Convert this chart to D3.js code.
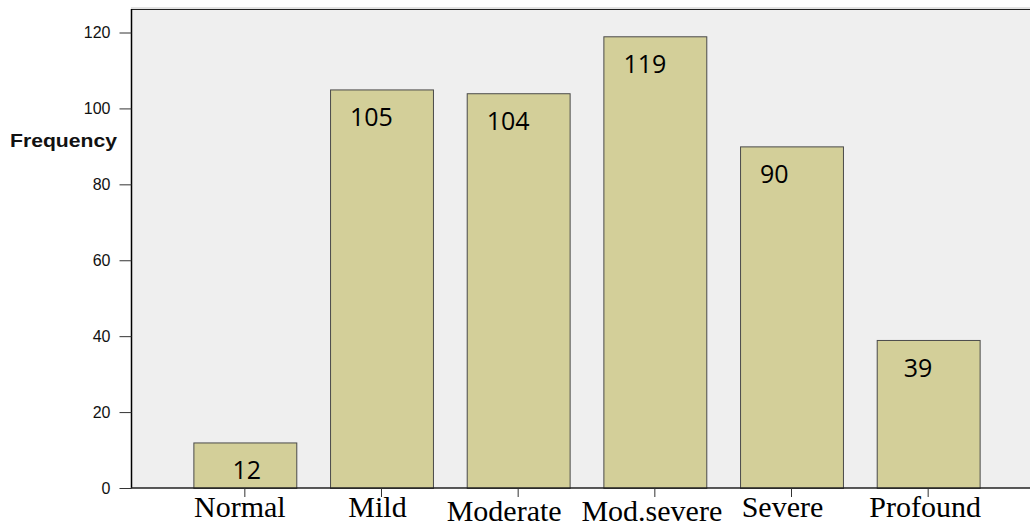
<!DOCTYPE html>
<html>
<head>
<meta charset="utf-8">
<script src="https://cdn.jsdelivr.net/npm/d3@7"></script>
<style>
  html, body { margin: 0; padding: 0; background: #ffffff; }
  svg { display: block; }
</style>
</head>
<body>
<svg id="chart" width="1030" height="529"></svg>
<script>
// ---- data ----
const categories = ["Normal", "Mild", "Moderate", "Mod.severe", "Severe", "Profound"];
const frequencies = [12, 105, 104, 119, 90, 39];
const yTicks = [0, 20, 40, 60, 80, 100, 120];
const yTitle = "Frequency";

// ---- layout (manual nudges of the text boxes, as in the source) ----
const valueLabelDx = [39, 20, 20, 20, 20, 27];     // from bar's left edge
const catLabelDx = [-5, -4, -14, -3, -9, -3];      // from tick
const catLabelDy = [29, 29, 33, 33, 29, 29];       // from axis line

const W = 1030, H = 529;
const plotLeft = 131, plotTop = 9, plotRight = 1030, plotBottom = 488;

const svg = d3.select("#chart");

const x = d3.scaleBand()
  .domain(categories)
  .range([176.5, 996.5])
  .paddingInner(0.247)
  .paddingOuter(0.1235);

const y = d3.scaleLinear()
  .domain([0, 120])
  .range([plotBottom, 32.5]);

// plot background
svg.append("rect")
  .attr("x", plotLeft).attr("y", plotTop)
  .attr("width", plotRight - plotLeft).attr("height", plotBottom - plotTop)
  .attr("fill", "#efefef");

// faint line above top border
svg.append("line")
  .attr("x1", plotLeft).attr("x2", plotRight)
  .attr("y1", plotTop - 1).attr("y2", plotTop - 1)
  .attr("stroke", "#c8c8c8").attr("stroke-width", 1);
// top border
svg.append("line")
  .attr("x1", plotLeft).attr("x2", plotRight)
  .attr("y1", plotTop + 0.5).attr("y2", plotTop + 0.5)
  .attr("stroke", "#222").attr("stroke-width", 1);

// bars
svg.append("g").selectAll("rect")
  .data(frequencies)
  .join("rect")
  .attr("x", (d, i) => x(categories[i]) + 0.5)
  .attr("y", d => y(d) + 0.5)
  .attr("width", x.bandwidth())
  .attr("height", d => y(0) - y(d))
  .attr("fill", "#d3cf99")
  .attr("stroke", "#4a4a4a")
  .attr("stroke-width", 1);

// value labels
svg.append("g").selectAll("text")
  .data(frequencies)
  .join("text")
  .attr("x", (d, i) => x(categories[i]) + valueLabelDx[i])
  .attr("y", d => y(d) + 37)
  .attr("font-family", "'Open Sans', 'Noto Sans', sans-serif")
  .attr("font-size", 25)
  .attr("fill", "#000")
  .text(d => d);

// y axis
const yAxis = d3.axisLeft(y)
  .tickValues(yTicks)
  .tickSize(12)
  .tickPadding(9)
  .tickFormat(d3.format("d"));
const gy = svg.append("g")
  .attr("transform", `translate(${plotLeft + 0.5},0)`)
  .call(yAxis);
gy.select(".domain").attr("d", `M0,${plotTop}V${plotBottom}`).attr("stroke", "#000").attr("stroke-width", 1.5);
gy.selectAll(".tick line").attr("stroke", "#333");
gy.selectAll(".tick text")
  .attr("font-family", "Arial, 'Liberation Sans', sans-serif")
  .attr("font-size", 16)
  .attr("fill", "#111");

// y title
svg.append("text")
  .attr("x", 10).attr("y", 147)
  .attr("font-family", "Arial, 'Liberation Sans', sans-serif")
  .attr("font-weight", "bold")
  .attr("font-size", 18.5)
  .attr("textLength", 107)
  .attr("lengthAdjust", "spacingAndGlyphs")
  .attr("fill", "#111")
  .text(yTitle);

// x axis
const xAxis = d3.axisBottom(x).tickSize(9).tickFormat("");
const gx = svg.append("g")
  .attr("transform", `translate(0,${plotBottom})`)
  .call(xAxis);
gx.select(".domain").attr("d", `M${plotLeft},0H${plotRight}`).attr("stroke", "#222").attr("stroke-width", 1.5);
gx.selectAll(".tick line").attr("stroke", "#333");

// category labels
svg.append("g").selectAll("text")
  .data(categories)
  .join("text")
  .attr("x", (d, i) => x(d) + x.bandwidth() / 2 + catLabelDx[i])
  .attr("y", (d, i) => plotBottom + catLabelDy[i])
  .attr("text-anchor", "middle")
  .attr("font-family", "'Liberation Serif', 'Times New Roman', serif")
  .attr("font-size", 30)
  .attr("fill", "#000")
  .text(d => d);
</script>
</body>
</html>
